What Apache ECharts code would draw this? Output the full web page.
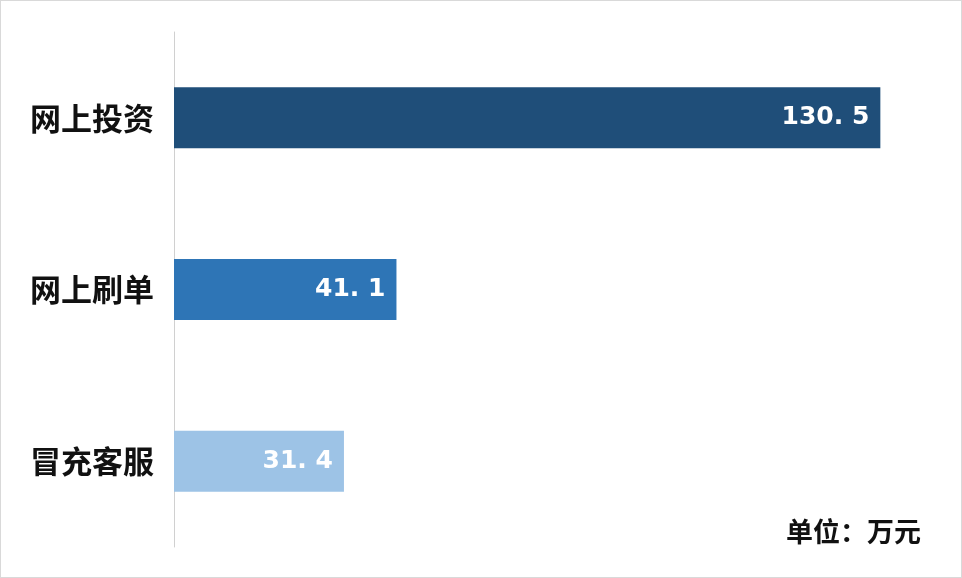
<!DOCTYPE html>
<html><head><meta charset="utf-8">
<script src="https://cdn.jsdelivr.net/npm/echarts@6/dist/echarts.min.js"></script>
<style>html,body{margin:0;padding:0;background:#fff}#c{width:962px;height:578px;box-sizing:border-box;border:1px solid #d9d9d9}</style>
</head><body><div id="c"></div>
<script>
const categories = ['冒充客服','网上刷单','网上投资'];
const values = [31.4, 41.1, 130.5];
const colors = ['#9dc3e6','#2e75b6','#1f4e79'];
const unitText = '单位：万元';
const chart = echarts.init(document.getElementById('c'));
chart.setOption({
  animation:false,
  grid:{left:173,right:0,top:31,bottom:30},
  xAxis:{type:'value',min:0,max:145.4,show:false},
  yAxis:{type:'category',data:categories,
    axisLine:{show:true,lineStyle:{color:'#d0d0d0',width:1}},axisTick:{show:false},
    axisLabel:{color:'#111',fontSize:31,fontWeight:'bold',margin:20,fontFamily:'Noto Sans CJK SC'}},
  graphic:[{type:'text',right:40,top:517,style:{text:unitText,fontSize:27,fontWeight:'bold',fill:'#111',fontFamily:'Noto Sans CJK SC'}}],
  series:[{type:'bar',barWidth:61,
    data:values.map((v,i)=>({value:v,itemStyle:{color:colors[i]}})),
    label:{show:true,position:'insideRight',offset:[-6,0],color:'#fff',fontSize:25,fontWeight:'bold',fontFamily:'DejaVu Sans',
      formatter:p=>String(p.value).replace('.', '. ')}}]
});
</script></body></html>
